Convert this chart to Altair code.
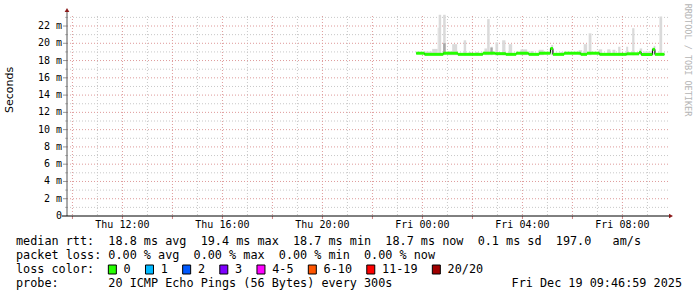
import altair as alt
import pandas as pd

W, H = 600, 200
X0, X1 = -14.217, 9.783          # hours relative to Fri 00:00
YMAX = 23.16                      # ms

# ---- median rtt (ms), step segments: start hour, value ----
med_start = [-0.25, 0.083, 0.833, 1.417, 2.417, 2.917, 3.333, 3.75, 4.25, 4.667,
             5.12, 5.22, 5.667, 6.333, 6.583, 7.083, 8.167, 8.667, 8.75, 9.2, 9.3]
med_value = [18.85, 18.72, 18.85, 18.72, 18.85, 18.8, 18.72, 18.85, 18.72, 18.85,
             19.4, 18.72, 18.85, 18.72, 18.85, 18.72, 18.78, 18.95, 18.7, 19.3, 18.72]
data_end = 9.68

# ---- smoke (ping spread), light gray ----
smoke_start = [0.08, 0.39, 0.61, 0.65, 0.83, 0.99, 1.19, 1.65, 1.85, 2.12, 2.48, 2.59, 2.72,
               2.92, 3.19, 3.45, 3.92, 4.32, 4.65, 5.15, 5.52, 6.25, 6.45, 6.65, 7.05, 7.39,
               7.6, 7.83, 8.15, 8.39, 8.69, 8.83, 9.25, 9.48]
smoke_end = [0.39, 0.61, 0.65, 0.75, 0.93, 1.19, 1.39, 1.75, 1.95, 2.25, 2.59, 2.69, 2.81,
             3.03, 3.32, 3.59, 4.19, 4.45, 4.85, 5.23, 5.65, 6.39, 6.59, 6.76, 7.19, 7.52,
             7.72, 7.92, 8.23, 8.48, 8.79, 9.25, 9.32, 9.59]
smoke_top = [19.05, 19.35, 21.8, 23.3, 23.3, 19.05, 19.9, 20.35, 19.0, 19.0, 19.4, 22.8, 19.6,
             20.1, 20.35, 19.9, 19.3, 19.1, 19.25, 19.8, 19.0, 19.2, 19.9, 21.15, 19.3, 19.3,
             19.25, 19.6, 19.6, 21.75, 19.4, 19.05, 19.7, 23.1]
smoke_floor = 18.62

# ---- darker smoke parts ----
dark_start = [0.83, 2.72]
dark_end = [0.93, 2.81]
dark_low = [18.8, 18.8]
dark_high = [20.0, 19.5]

# ---- axes ----
y_ticks = [0, 2, 4, 6, 8, 10, 12, 14, 16, 18, 20, 22]
x_tick_hours = [-12, -8, -4, 0, 4, 8]
x_tick_labels = ["Thu 12:00", "Thu 16:00", "Thu 20:00", "Fri 00:00", "Fri 04:00", "Fri 08:00"]
grid_minor_hours = list(range(-13, 10, 2))
grid_major_hours = list(range(-14, 10, 2))
grid_minor_ms = list(range(1, 24, 2))
grid_major_ms = list(range(2, 23, 2))

# ---- legend ----
stats_line = "median rtt:  18.8 ms avg  19.4 ms max  18.7 ms min  18.7 ms now  0.1 ms sd  197.0   am/s"
loss_line = "packet loss: 0.00 % avg  0.00 % max  0.00 % min  0.00 % now"
probe_line = "probe:       20 ICMP Echo Pings (56 Bytes) every 300s"
stamp = "Fri Dec 19 09:46:59 2025"
loss_labels = ["0", "1", "2", "3", "4-5", "6-10", "11-19", "20/20"]
loss_colors = ["#26ff00", "#00b8ff", "#0059ff", "#7e00ff", "#ff00ff", "#ff5500", "#ff0000", "#a00000"]

MONO = "DejaVu Sans Mono"
FS = 11.8
CW = FS * 0.602

xs = alt.Scale(domain=[X0, X1], nice=False, zero=False)
ys = alt.Scale(domain=[0, YMAX], nice=False, zero=False)

def nb(s):
    return s.replace(" ", "\u00a0")

one = pd.DataFrame({"k": [0]})

def txt(s, x, y, size=FS, align="left", font=MONO, color="#000000", angle=None, baseline="middle"):
    kw = dict(align=align, baseline=baseline, font=font, fontSize=size, color=color)
    if angle is not None:
        kw["angle"] = angle
    return alt.Chart(one).mark_text(**kw).encode(x=alt.value(x), y=alt.value(y), text=alt.value(nb(s)))

layers = []

# grid
vmin = pd.DataFrame({"h": grid_minor_hours})
vmaj = pd.DataFrame({"h": grid_major_hours})
hmin = pd.DataFrame({"v": grid_minor_ms})
hmaj = pd.DataFrame({"v": grid_major_ms})
layers.append(alt.Chart(vmin).mark_rule(color="#c8c8c8", strokeDash=[1, 2], strokeWidth=1).encode(
    x=alt.X("h:Q", scale=xs, axis=None), y=alt.value(0), y2=alt.value(H)))
layers.append(alt.Chart(hmin).mark_rule(color="#c8c8c8", strokeDash=[1, 2], strokeWidth=1).encode(
    y=alt.Y("v:Q", scale=ys, axis=None), x=alt.value(0), x2=alt.value(W + 2)))
layers.append(alt.Chart(vmaj).mark_rule(color="#de9a9a", strokeDash=[1, 2], strokeWidth=1).encode(
    x=alt.X("h:Q", scale=xs, axis=None), y=alt.value(0), y2=alt.value(H)))
layers.append(alt.Chart(hmaj).mark_rule(color="#de9a9a", strokeDash=[1, 2], strokeWidth=1).encode(
    y=alt.Y("v:Q", scale=ys, axis=None), x=alt.value(0), x2=alt.value(W + 2)))
# y ticks
layers.append(alt.Chart(hmaj).mark_rule(color="#999999", strokeWidth=1).encode(
    y=alt.Y("v:Q", scale=ys, axis=None), x=alt.value(-4), x2=alt.value(0)))
layers.append(alt.Chart(hmin).mark_rule(color="#bbbbbb", strokeWidth=1).encode(
    y=alt.Y("v:Q", scale=ys, axis=None), x=alt.value(-2), x2=alt.value(0)))
# x ticks
layers.append(alt.Chart(vmaj).mark_rule(color="#d08080", strokeWidth=1).encode(
    x=alt.X("h:Q", scale=xs, axis=None), y=alt.value(H), y2=alt.value(H + 3)))

# smoke
smoke = pd.DataFrame({"s": smoke_start, "e": smoke_end, "lo": smoke_floor, "hi": smoke_top})
layers.append(alt.Chart(smoke).mark_rect(color="#dadada").encode(
    x=alt.X("s:Q", scale=xs, axis=None), x2="e:Q",
    y=alt.Y("lo:Q", scale=ys, axis=None), y2="hi:Q"))
dark = pd.DataFrame({"s": dark_start, "e": dark_end, "lo": dark_low, "hi": dark_high})
layers.append(alt.Chart(dark).mark_rect(color="#a8a8a8").encode(
    x=alt.X("s:Q", scale=xs, axis=None), x2="e:Q",
    y=alt.Y("lo:Q", scale=ys, axis=None), y2="hi:Q"))

# median: thin black step line, then green loss-coloured segments
med_end = med_start[1:] + [data_end]
line_df = pd.DataFrame({"t": med_start + [data_end], "v": med_value + [med_value[-1]]})
layers.append(alt.Chart(line_df).mark_line(interpolate="step-after", color="#000000", strokeWidth=1).encode(
    x=alt.X("t:Q", scale=xs, axis=None), y=alt.Y("v:Q", scale=ys, axis=None)))
seg_df = pd.DataFrame({"s": med_start, "e": med_end, "v": med_value})
layers.append(alt.Chart(seg_df).mark_rule(color="#26ff00", strokeWidth=3).encode(
    x=alt.X("s:Q", scale=xs, axis=None), x2="e:Q", y=alt.Y("v:Q", scale=ys, axis=None)))

# axis lines and arrows
layers.append(alt.Chart(one).mark_rule(color="#555555", strokeWidth=1).encode(
    x=alt.value(0), y=alt.value(-6), y2=alt.value(H)))
layers.append(alt.Chart(one).mark_rule(color="#000000", strokeWidth=1).encode(
    x=alt.value(-5), x2=alt.value(603), y=alt.value(H)))
layers.append(alt.Chart(one).mark_point(shape="triangle-up", filled=True, color="#8b1a1a", size=22, opacity=1).encode(
    x=alt.value(0), y=alt.value(-6)))
layers.append(alt.Chart(one).mark_point(shape="triangle-right", filled=True, color="#8b1a1a", size=22, opacity=1).encode(
    x=alt.value(604), y=alt.value(H)))

# axis labels
ylab = pd.DataFrame({"v": y_ticks, "lab": [nb("0  ") if v == 0 else f"{v}\u00a0m" for v in y_ticks]})
layers.append(alt.Chart(ylab).mark_text(align="right", baseline="middle", font=MONO, fontSize=10, color="#000000").encode(
    y=alt.Y("v:Q", scale=ys, axis=None), x=alt.value(-5), text="lab:N"))
xlab = pd.DataFrame({"h": x_tick_hours, "lab": [nb(s) for s in x_tick_labels]})
layers.append(alt.Chart(xlab).mark_text(align="center", baseline="top", font=MONO, fontSize=10, color="#000000").encode(
    x=alt.X("h:Q", scale=xs, axis=None), y=alt.value(H + 4), text="lab:N"))

# titles
layers.append(txt("Seconds", -57, 97, size=11, font="DejaVu Sans", angle=270))
layers.append(txt("RRDTOOL / TOBI OETIKER", 621, 44, size=8.5, color="#b4b4b4", angle=90, align="center"))

# legend text
LX = 16 - 67
layers.append(txt(stats_line, LX, 225))
layers.append(txt(loss_line, LX, 239))
layers.append(txt("loss color:", LX, 253))
layers.append(txt(probe_line, LX, 267))
layers.append(txt(stamp, 682 - 67, 267, align="right"))

col = 13.0
for lab, c in zip(loss_labels, loss_colors):
    bx = LX + col * CW
    layers.append(alt.Chart(one).mark_rect(fill=c, stroke="#000000", strokeWidth=1).encode(
        x=alt.value(bx), x2=alt.value(bx + 8), y=alt.value(249), y2=alt.value(258)))
    lcol = col + 2.15
    layers.append(txt(lab, LX + lcol * CW, 253))
    col = lcol + len(lab) + 2.08

chart = alt.layer(*layers).properties(
    width=W, height=H,
    autosize=alt.AutoSizeParams(type="none"),
    padding={"left": 67, "top": 16, "right": 30, "bottom": 81},
    background="white",
).configure_view(stroke=None)

chart.save("out.html", embed_options={"renderer": "svg", "actions": False})
